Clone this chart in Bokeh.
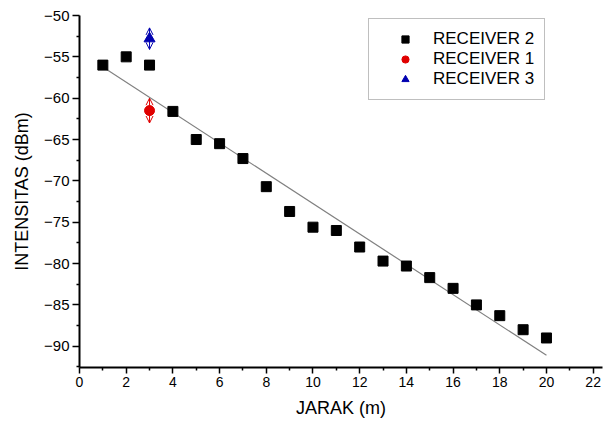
import numpy as np
from bokeh.plotting import figure
from bokeh.models import (ColumnDataSource, Legend, LegendItem, Whisker, OpenHead,
                          FixedTicker, Range1d)
from bokeh.embed import file_html
from bokeh.resources import INLINE

# ---- data ----
jarak_r2 = [1, 2, 3, 4, 5, 6, 7, 8, 9, 10, 11, 12, 13, 14, 15, 16, 17, 18, 19, 20]
intensitas_r2 = [-56.0, -55.0, -56.0, -61.6, -65.0, -65.5, -67.3, -70.7, -73.7, -75.6,
                 -76.0, -78.0, -79.7, -80.3, -81.7, -83.0, -85.0, -86.3, -88.0, -89.0]
jarak_r1 = [3]
intensitas_r1 = [-61.5]
err_r1 = [1.5]
jarak_r3 = [3]
intensitas_r3 = [-52.8]
err_r3 = [1.3]
x_ticks = [0, 2, 4, 6, 8, 10, 12, 14, 16, 18, 20, 22]
x_minor = [1, 3, 5, 7, 9, 11, 13, 15, 17, 19, 21]
y_ticks = [-90, -85, -80, -75, -70, -65, -60, -55, -50]
y_minor = [-92.5, -87.5, -82.5, -77.5, -72.5, -67.5, -62.5, -57.5, -52.5]

FONT = "Liberation Sans"

p = figure(width=605, height=423, output_backend="svg", toolbar_location=None,
           x_range=Range1d(0, 22.4), y_range=Range1d(-92.57, -50),
           min_border_left=79, min_border_right=3, min_border_top=15, min_border_bottom=56)
p.outline_line_color = None
p.xgrid.visible = False
p.ygrid.visible = False
p.background_fill_color = "white"
p.border_fill_color = "white"

# fit line
slope, intercept = np.polyfit(jarak_r2, intensitas_r2, 1)
fx = np.array([jarak_r2[0], jarak_r2[-1]], dtype=float)
p.line(fx, slope * fx + intercept, line_color="#808080", line_width=1.2)

src2 = ColumnDataSource(dict(x=jarak_r2, y=intensitas_r2))
r2 = p.scatter("x", "y", source=src2, marker="square", size=10,
               fill_color="black", line_color="black")

src1 = ColumnDataSource(dict(x=jarak_r1, y=intensitas_r1,
                             lo=[a - b for a, b in zip(intensitas_r1, err_r1)],
                             hi=[a + b for a, b in zip(intensitas_r1, err_r1)]))
src3 = ColumnDataSource(dict(x=jarak_r3, y=intensitas_r3,
                             lo=[a - b for a, b in zip(intensitas_r3, err_r3)],
                             hi=[a + b for a, b in zip(intensitas_r3, err_r3)]))

for src, col in ((src1, "#e00000"), (src3, "#0000b0")):
    w = Whisker(source=src, base="x", upper="hi", lower="lo", dimension="height",
                line_color=col, line_width=1,
                upper_head=OpenHead(size=7, line_color=col, line_width=1),
                lower_head=OpenHead(size=7, line_color=col, line_width=1))
    p.add_layout(w)

r1 = p.scatter("x", "y", source=src1, marker="circle", size=10,
               fill_color="#e00000", line_color="#e00000")
r3 = p.scatter("x", "y", source=src3, marker="triangle", size=11,
               fill_color="#0000b0", line_color="#0000b0")

# axes
for ax in (p.xaxis[0], p.yaxis[0]):
    ax.axis_line_width = 2
    ax.axis_line_color = "black"
    ax.major_tick_line_color = "black"
    ax.minor_tick_line_color = "black"
    ax.major_tick_line_width = 1.5
    ax.minor_tick_line_width = 1.5
    ax.major_tick_in = 0
    ax.minor_tick_in = 0
    ax.major_tick_out = 7
    ax.minor_tick_out = 3
    ax.major_label_text_font = FONT
    ax.major_label_text_color = "black"
    ax.axis_label_text_font = FONT
    ax.axis_label_text_font_size = "18px"
    ax.axis_label_text_font_style = "normal"
    ax.axis_label_text_color = "black"

p.xaxis.major_label_text_font_size = "14px"
p.yaxis.major_label_text_font_size = "15px"
p.xaxis.ticker = FixedTicker(ticks=x_ticks, minor_ticks=x_minor)
p.yaxis.ticker = FixedTicker(ticks=y_ticks, minor_ticks=y_minor)
p.xaxis.axis_label = "JARAK (m)"
p.yaxis.axis_label = "INTENSITAS (dBm)"
p.xaxis.major_tick_out = 6
p.xaxis.major_label_standoff = 3
p.xaxis.axis_label_standoff = 8
p.yaxis.major_label_standoff = 3
p.yaxis.axis_label_standoff = 9

legend = Legend(items=[LegendItem(label="RECEIVER 2", renderers=[r2]),
                       LegendItem(label="RECEIVER 1", renderers=[r1]),
                       LegendItem(label="RECEIVER 3", renderers=[r3])],
                location=(289, 267))
legend.label_text_font = FONT
legend.label_text_font_size = "17px"
legend.label_text_color = "black"
legend.border_line_color = "#808080"
legend.border_line_width = 1
legend.padding = 10
legend.spacing = 0
legend.glyph_width = 52
legend.glyph_height = 18
legend.label_height = 18
legend.label_standoff = 2
legend.margin = 0
legend.background_fill_alpha = 1
p.add_layout(legend, "center")

open("out.html", "w").write(file_html(p, INLINE))
